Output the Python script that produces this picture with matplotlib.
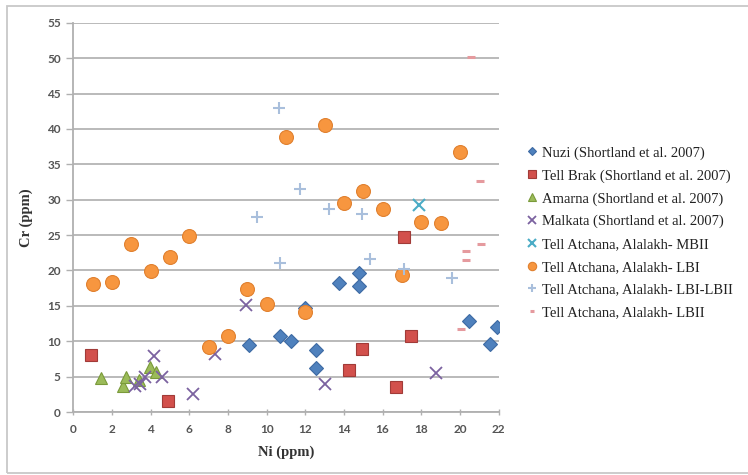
import matplotlib
matplotlib.use('Agg')
import matplotlib.pyplot as plt
from matplotlib.patches import Rectangle

# Ni (x) / Cr (y) values in ppm
nuzi_x = [9.1, 10.7, 11.25, 12.0, 12.55, 12.55, 13.75, 14.8, 14.8, 20.45, 21.55, 21.9]
nuzi_y = [9.4, 10.7, 10.1, 14.7, 8.7, 6.2, 18.2, 19.6, 17.8, 12.8, 9.6, 12.0]

brak_x = [0.9, 4.9, 14.25, 14.95, 16.7, 17.1, 17.45]
brak_y = [8.0, 1.5, 5.9, 8.9, 3.5, 24.7, 10.7]

amarna_x = [1.45, 2.55, 2.75, 3.4, 3.95, 4.3]
amarna_y = [4.8, 3.7, 5.0, 4.5, 6.3, 5.6]

malkata_x = [3.2, 3.45, 3.7, 4.15, 4.6, 6.2, 7.35, 8.95, 13.0, 18.75]
malkata_y = [3.7, 3.9, 4.9, 7.9, 4.9, 2.6, 8.2, 15.1, 3.9, 5.5]

mbii_x = [17.9]
mbii_y = [29.3]

lbi_x = [1, 2, 3, 4, 5, 6, 7, 8, 9, 10, 11, 12, 13, 14, 15, 16, 17, 18, 19, 20]
lbi_y = [18.1, 18.3, 23.7, 19.9, 21.9, 24.8, 9.2, 10.8, 17.4, 15.3,
         38.8, 14.1, 40.6, 29.6, 31.2, 28.7, 19.4, 26.8, 26.7, 36.8]

lbilbii_x = [9.5, 10.65, 10.7, 11.75, 13.25, 14.95, 15.35, 17.1, 19.6]
lbilbii_y = [27.6, 42.9, 21.0, 31.5, 28.7, 28.0, 21.6, 20.2, 19.0]

lbii_x = [20.05, 20.3, 20.3, 20.6, 21.05, 21.1]
lbii_y = [11.7, 21.5, 22.7, 50.1, 32.7, 23.7]

labels = ['Nuzi (Shortland et al. 2007)',
          'Tell Brak (Shortland et al. 2007)',
          'Amarna (Shortland et al. 2007)',
          'Malkata (Shortland et al. 2007)',
          'Tell Atchana, Alalakh- MBII',
          'Tell Atchana, Alalakh- LBI',
          'Tell Atchana, Alalakh- LBI-LBII',
          'Tell Atchana, Alalakh- LBII']

x_ticks = list(range(0, 23, 2))
y_ticks = list(range(0, 56, 5))

fig = plt.figure(figsize=(7.48, 4.75), dpi=100)
ax = fig.add_axes([0.098, 0.1326, 0.5685, 0.8195])

# outer chart frame
fig.patches.append(Rectangle((7 / 748, 2 / 475), 1.2, 467 / 475, transform=fig.transFigure,
                             fill=False, edgecolor='#c8c8c8', linewidth=1.3))

ax.plot(nuzi_x, nuzi_y, 'D', ms=7, mfc='#4f81bd', mec='#3d6aa3', mew=0.8, label=labels[0])
ax.plot(brak_x, brak_y, 's', ms=8.5, mfc='#d2504c', mec='#a13b38', mew=0.8, label=labels[1])
ax.plot(amarna_x, amarna_y, '^', ms=9, mfc='#9bbb59', mec='#7a9a3a', mew=0.8, label=labels[2])
ax.plot(malkata_x, malkata_y, 'x', ms=9, mec='#7b62a0', mew=1.3, label=labels[3])
ax.plot(mbii_x, mbii_y, 'x', ms=9, mec='#4bacc6', mew=1.5, label=labels[4])
ax.plot(lbi_x, lbi_y, 'o', ms=10, mfc='#f7963f', mec='#e0802f', mew=0.8, label=labels[5])
ax.plot(lbilbii_x, lbilbii_y, '+', ms=9, mec='#a9bfdc', mew=1.5, label=labels[6])
ax.plot(lbii_x, lbii_y, '_', ms=6, mec='#e59a9e', mew=2.2, label=labels[7])

ax.set_xlim(0, 22)
ax.set_ylim(0, 55)
ax.set_xticks(x_ticks)
ax.set_yticks(y_ticks)
ax.grid(axis='y', color='#b4b4b4', linewidth=1.3)
ax.set_axisbelow(True)
for s in ['top', 'right']:
    ax.spines[s].set_visible(False)
ax.spines['left'].set_color('#b0b0b0')
ax.spines['bottom'].set_color('#b0b0b0')
ax.spines['left'].set_linewidth(1.3)
ax.spines['bottom'].set_linewidth(1.3)
ax.tick_params(axis='y', length=5, color='#b0b0b0', width=1.0, pad=4,
               labelsize=8.5, labelcolor='#555555')
ax.tick_params(axis='x', direction='inout', length=5, color='#b0b0b0', width=1.0, pad=6,
               labelsize=8.5, labelcolor='#555555')
for lab in ax.get_xticklabels() + ax.get_yticklabels():
    lab.set_fontfamily('Lato')
    lab.set_fontweight('bold')

ax.set_xlabel('Ni (ppm)', fontfamily='Liberation Serif', fontweight='bold',
              fontsize=10.5, color='#333333', labelpad=8)
ax.set_ylabel('Cr (ppm)', fontfamily='Liberation Serif', fontweight='bold',
              fontsize=10.5, color='#333333', labelpad=10)

fig.legend(loc='upper left', bbox_to_anchor=(514 / 748, 1 - 133 / 475), frameon=False,
           prop={'family': 'Liberation Serif', 'size': 10.5}, labelcolor='#222222',
           handlelength=0.7, handletextpad=0.3, markerscale=0.6, labelspacing=0.65)

fig.savefig('out.png', dpi=100)
